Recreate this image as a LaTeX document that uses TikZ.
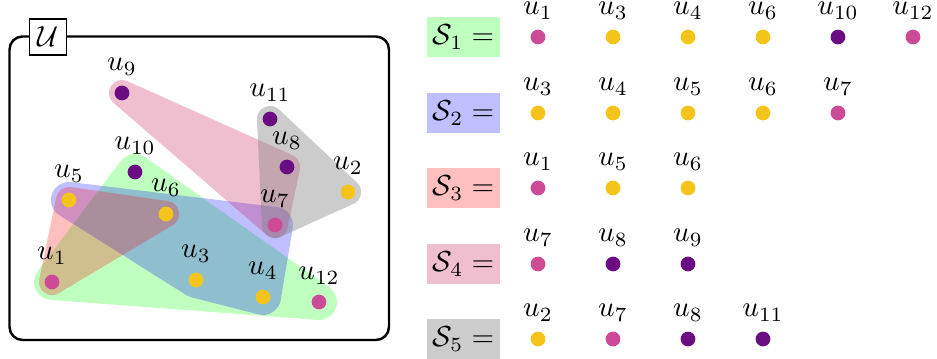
\documentclass[tikz,border=0pt]{standalone}
\usepackage{amsmath}
\definecolor{dotpink}{RGB}{205,75,150}
\definecolor{dotyellow}{RGB}{245,196,26}
\definecolor{dotpurple}{RGB}{106,12,130}
\begin{document}
\begin{tikzpicture}[x=0.345pt,y=-0.345pt,
  every label/.style={inner sep=1pt},
  label distance=2.2pt,
  dot/.style={circle,inner sep=0pt,minimum size=5.1pt},
  pk/.style={dot,fill=dotpink},
  yl/.style={dot,fill=dotyellow},
  pu/.style={dot,fill=dotpurple},
  hullbig/.style={line width=12.4pt,line join=round,line cap=round},
  hullsmall/.style={line width=9.0pt,line join=round,line cap=round},
  setbox/.style={minimum width=25.2pt,minimum height=13.8pt,inner sep=0pt}]
\useasboundingbox (0,0) rectangle (937,359);

% element positions
\coordinate (p1) at (52,282);
\coordinate (p2) at (348,192);
\coordinate (p3) at (196,280);
\coordinate (p4) at (263,297);
\coordinate (p5) at (69,200);
\coordinate (p6) at (166,214);
\coordinate (p7) at (275,225);
\coordinate (p8) at (287,167);
\coordinate (p9) at (122,93);
\coordinate (p10) at (135,172);
\coordinate (p11) at (270,119);
\coordinate (p12) at (319,302);

% universe frame
\draw[line width=0.85pt,rounded corners=4.5pt] (9.5,36.5) rectangle (389,340);
\node[draw,fill=white,line width=0.4pt,minimum width=13pt,minimum height=12.4pt,inner sep=0pt] (U) at (48,37) {$\mathcal{U}$};

% hulls
\begin{scope}[transparency group,opacity=0.25]
  \draw[hullbig,draw=green,fill=green] (p1) -- (p10) -- (p12) -- cycle;
\end{scope}
\begin{scope}[transparency group,opacity=0.25]
  \draw[hullbig,draw=blue,fill=blue] (p5) -- (p7) -- (p4) -- (p3) -- cycle;
\end{scope}
\begin{scope}[transparency group,opacity=0.25]
  \draw[hullsmall,draw=red,fill=red] (p1) -- (p5) -- (p6) -- cycle;
\end{scope}
\begin{scope}[transparency group,opacity=0.25]
  \draw[hullsmall,draw=purple,fill=purple] (p9) -- (p8) -- (p7) -- cycle;
\end{scope}
\begin{scope}[transparency group,opacity=0.4]
  \draw[hullsmall,draw=gray,fill=gray] (p11) -- (p2) -- (p7) -- cycle;
\end{scope}

% element dots
\node[pk,label=above:$u_1$] (u1) at (p1) {};
\node[yl,label=above:$u_2$] (u2) at (p2) {};
\node[yl,label=above:$u_3$] (u3) at (p3) {};
\node[yl,label=above:$u_4$] (u4) at (p4) {};
\node[yl,label=above:$u_5$] (u5) at (p5) {};
\node[yl,label=above:$u_6$] (u6) at (p6) {};
\node[pk,label=above:$u_7$] (u7) at (p7) {};
\node[pu,label=above:$u_8$] (u8) at (p8) {};
\node[pu,label=above:$u_9$] (u9) at (p9) {};
\node[pu,label=above:$u_{10}$] (u10) at (p10) {};
\node[pu,label=above:$u_{11}$] (u11) at (p11) {};
\node[pk,label=above:$u_{12}$] (u12) at (p12) {};

% set listing
\node[setbox,fill=green!25] (S1) at (463.5,37) {$\mathcal{S}_1 =$};
\node[setbox,fill=blue!25] (S2) at (463.5,113) {$\mathcal{S}_2 =$};
\node[setbox,fill=red!25] (S3) at (463.5,188) {$\mathcal{S}_3 =$};
\node[setbox,fill=purple!25] (S4) at (463.5,264) {$\mathcal{S}_4 =$};
\node[setbox,fill=gray!40] (S5) at (463.5,339) {$\mathcal{S}_5 =$};

\node[pk,label=above:$u_1$] (a1) at (538,37) {};
\node[yl,label=above:$u_3$] (a2) at (613,37) {};
\node[yl,label=above:$u_4$] (a3) at (688,37) {};
\node[yl,label=above:$u_6$] (a4) at (763,37) {};
\node[pu,label=above:$u_{10}$] (a5) at (838,37) {};
\node[pk,label=above:$u_{12}$] (a6) at (913,37) {};

\node[yl,label=above:$u_3$] (b1) at (538,113) {};
\node[yl,label=above:$u_4$] (b2) at (613,113) {};
\node[yl,label=above:$u_5$] (b3) at (688,113) {};
\node[yl,label=above:$u_6$] (b4) at (763,113) {};
\node[pk,label=above:$u_7$] (b5) at (838,113) {};

\node[pk,label=above:$u_1$] (c1) at (538,188) {};
\node[yl,label=above:$u_5$] (c2) at (613,188) {};
\node[yl,label=above:$u_6$] (c3) at (688,188) {};

\node[pk,label=above:$u_7$] (d1) at (538,264) {};
\node[pu,label=above:$u_8$] (d2) at (613,264) {};
\node[pu,label=above:$u_9$] (d3) at (688,264) {};

\node[yl,label=above:$u_2$] (e1) at (538,339) {};
\node[pk,label=above:$u_7$] (e2) at (613,339) {};
\node[pu,label=above:$u_8$] (e3) at (688,339) {};
\node[pu,label=above:$u_{11}$] (e4) at (763,339) {};
\end{tikzpicture}
\end{document}
